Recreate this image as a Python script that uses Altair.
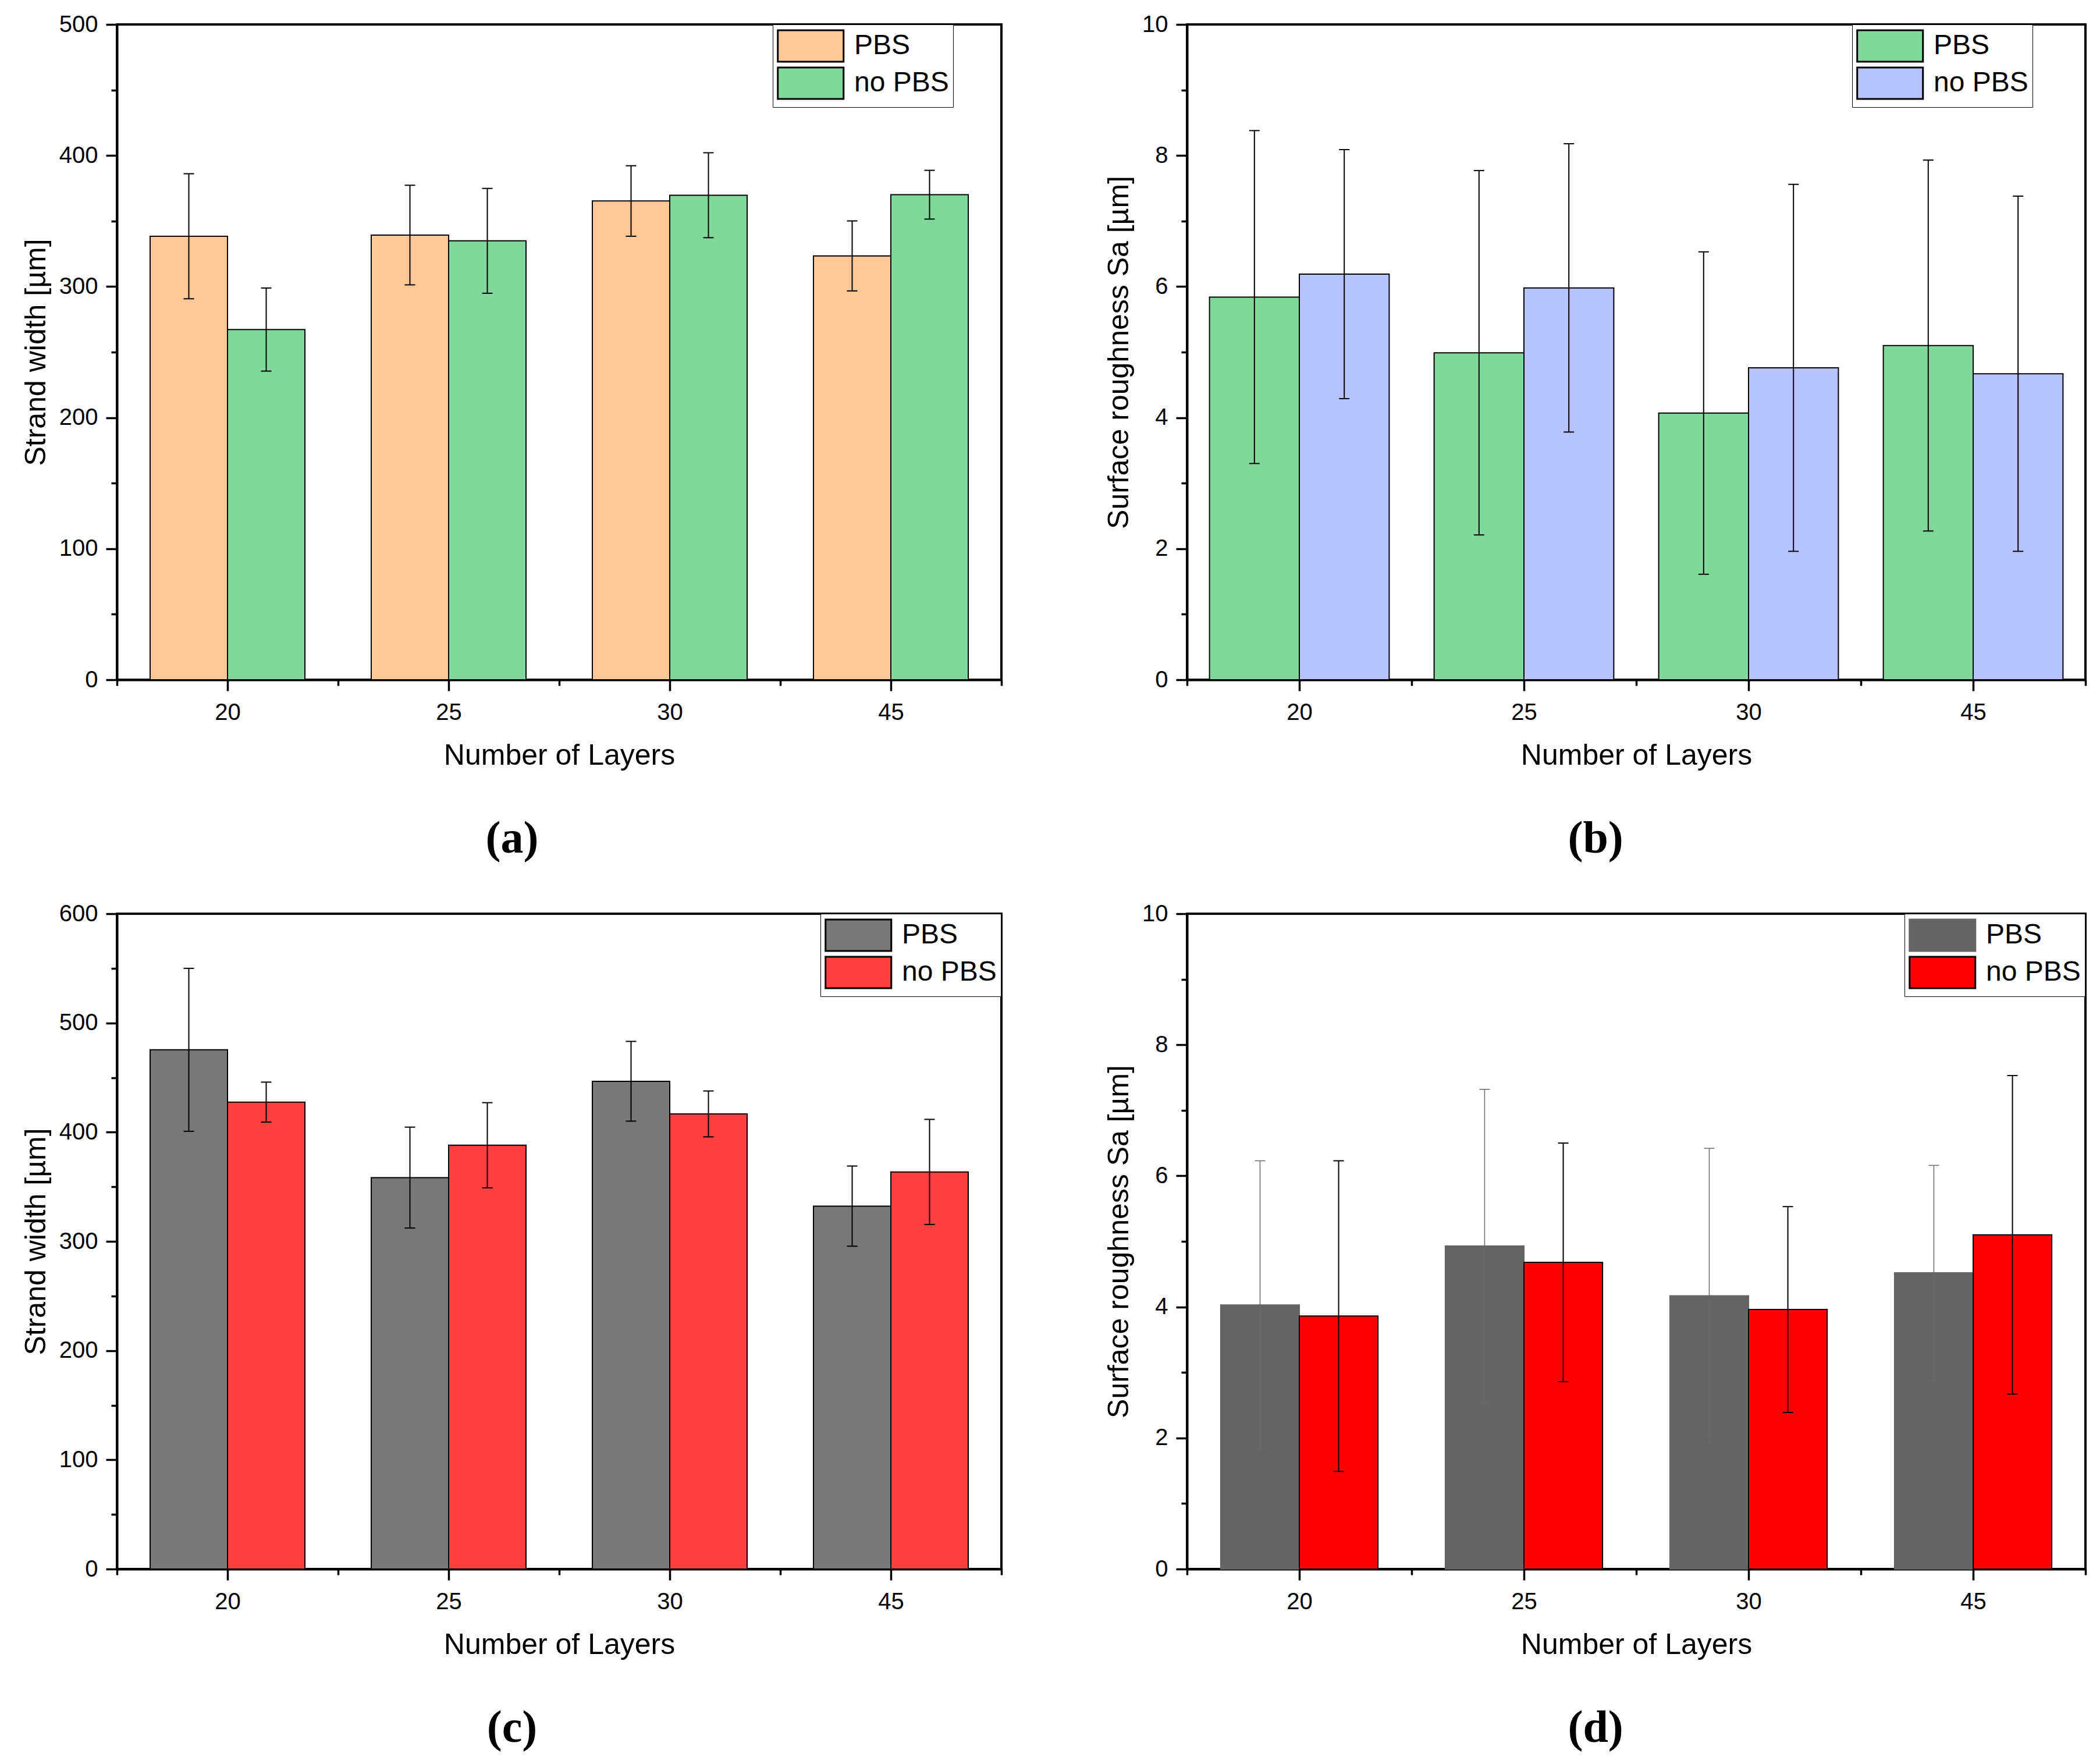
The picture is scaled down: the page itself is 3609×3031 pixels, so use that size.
import altair as alt
import pandas as pd

layers = ["20", "25", "30", "45"]
series = ["PBS", "no PBS"]

# (a) strand width, orange/green
a_pbs = [338.4, 339.3, 365.3, 323.4]
a_pbs_err = [47.7, 38.0, 26.9, 26.7]
a_nopbs = [267.2, 334.9, 369.7, 370.1]
a_nopbs_err = [31.7, 40.0, 32.4, 18.6]

# (b) surface roughness, green/blue
b_pbs = [5.84, 4.99, 4.07, 5.10]
b_pbs_err = [2.54, 2.78, 2.46, 2.83]
b_nopbs = [6.19, 5.98, 4.76, 4.67]
b_nopbs_err = [1.90, 2.20, 2.80, 2.71]

# (c) strand width, gray/red
c_pbs = [475.4, 358.4, 446.6, 332.3]
c_pbs_err = [74.6, 46.2, 36.5, 36.7]
c_nopbs = [427.5, 388.0, 416.7, 363.6]
c_nopbs_err = [18.3, 39.0, 21.0, 48.1]

# (d) surface roughness, gray/red
d_pbs = [4.03, 4.93, 4.17, 4.52]
d_pbs_err = [2.20, 2.39, 2.25, 1.64]
d_nopbs = [3.86, 4.68, 3.96, 5.10]
d_nopbs_err = [2.37, 1.82, 1.57, 2.43]

FONT = "Liberation Sans"


def make_df(pbs, pbs_err, nopbs, nopbs_err):
    rows = []
    for i, lay in enumerate(layers):
        rows.append({"idx": i, "layer": lay, "series": "PBS", "sidx": 0,
                     "mean": pbs[i], "err": pbs_err[i]})
        rows.append({"idx": i, "layer": lay, "series": "no PBS", "sidx": 1,
                     "mean": nopbs[i], "err": nopbs_err[i]})
    return pd.DataFrame(rows)


def panel(pbs, pbs_err, nopbs, nopbs_err, ymax, ystep, ytitle, colors,
          strokes, errcolors, errwidths, barw, legx, label, pw):
    df = make_df(pbs, pbs_err, nopbs, nopbs_err)
    base = alt.Chart(df).transform_calculate(
        xc=f"datum.idx + (datum.sidx - 0.5) * {barw}",
        x0=f"datum.idx + (datum.sidx - 1) * {barw}",
        x1=f"datum.idx + datum.sidx * {barw}",
        lo="datum.mean - datum.err",
        hi="datum.mean + datum.err",
    )
    xscale = alt.Scale(domain=[-0.5, 3.5], nice=False, zero=False)
    yscale = alt.Scale(domain=[0, ymax], nice=False, zero=True)

    common = dict(domainColor="black", tickColor="black", labelColor="black",
                  titleColor="black", grid=False, labelFont=FONT,
                  titleFont=FONT, titleFontWeight="normal", tickWidth=3.5,
                  domainWidth=4, labelFontSize=40, titleFontSize=50,
                  labelOverlap=False, labelFlush=False)
    major_x = alt.Axis(values=[0, 1, 2, 3],
                       labelExpr="['20','25','30','45'][datum.value]",
                       title="Number of Layers", orient="bottom", tickSize=19,
                       labelPadding=17, titlePadding=29, **common)
    major_y = alt.Axis(values=list(range(0, ymax + 1, ystep)), title=ytitle,
                       orient="left", tickSize=19, labelPadding=14,
                       titlePadding=14, **common)
    minor_x = alt.Axis(values=[-0.5, 0.5, 1.5, 2.5, 3.5], labels=False,
                       title=None, orient="bottom", tickSize=10, domain=False,
                       tickWidth=3.5, tickColor="black", grid=False)
    minor_vals = [ystep / 2 + k * ystep for k in range(int(ymax / ystep))]
    minor_y = alt.Axis(values=minor_vals, labels=False, title=None,
                       orient="left", tickSize=10, domain=False,
                       tickWidth=3.5, tickColor="black", grid=False)

    leg = alt.Legend(title=None, orient="none", legendX=legx, legendY=0,
                     symbolType="M-1,-0.956H3V0.956H-1Z",
                     symbolSize=56.5 ** 2, symbolStrokeWidth=3,
                     labelFont=FONT, labelFontSize=48, labelColor="black",
                     labelOffset=73, padding=7, rowPadding=-6,
                     strokeColor="black", fillColor="white",
                     labelLimit=0)

    bars = base.mark_bar(strokeWidth=2).encode(
        x=alt.X("x0:Q", scale=xscale, axis=major_x),
        x2="x1:Q",
        y=alt.Y("mean:Q", scale=yscale, axis=major_y),
        y2=alt.datum(0),
        color=alt.Color("series:N", scale=alt.Scale(domain=series, range=colors),
                        legend=leg),
        stroke=alt.Stroke("series:N",
                          scale=alt.Scale(domain=series, range=strokes),
                          legend=leg),
    )
    out = [bars]
    for k, s in enumerate(series):
        sub = base.transform_filter(alt.datum.series == s)
        rules = sub.mark_rule(color=errcolors[k], strokeWidth=errwidths[k]).encode(
            x=alt.X("xc:Q", scale=xscale,
                    axis=minor_x if k == 0 else None),
            y=alt.Y("lo:Q", scale=yscale,
                    axis=minor_y if k == 0 else None),
            y2="hi:Q",
        )
        caps = sub.transform_fold(["lo", "hi"], as_=["end", "val"]).mark_tick(
            orient="horizontal", size=18, thickness=errwidths[k],
            color=errcolors[k], opacity=1
        ).encode(
            x=alt.X("xc:Q", scale=xscale, axis=None),
            y=alt.Y("val:Q", scale=yscale, axis=None),
        )
        out += [rules, caps]
    return alt.layer(*out).resolve_axis(
        x="independent", y="independent"
    ).properties(
        width=pw, height=1126,
        title=alt.TitleParams(label, orient="bottom", anchor="middle",
                              frame="bounds", font="Liberation Serif",
                              fontSize=78, fontWeight="bold", color="black",
                              offset=80),
    )


pa = panel(a_pbs, a_pbs_err, a_nopbs, a_nopbs_err, 500, 100,
           "Strand width [µm]", ["#FFC896", "#80D99A"], ["black", "black"],
           ["black", "black"], [2, 2], 0.35, 1127, "(a)", 1520)
pb = panel(b_pbs, b_pbs_err, b_nopbs, b_nopbs_err, 10, 2,
           "Surface roughness Sa [µm]", ["#80D99A", "#B7C3FF"],
           ["black", "black"], ["black", "black"], [2, 2], 0.40, 1143,
           "(b)", 1544)
pc = panel(c_pbs, c_pbs_err, c_nopbs, c_nopbs_err, 600, 100,
           "Strand width [µm]", ["#787878", "#FF4040"], ["black", "black"],
           ["black", "black"], [2, 2], 0.35, 1209, "(c)", 1520)
pd_ = panel(d_pbs, d_pbs_err, d_nopbs, d_nopbs_err, 10, 2,
            "Surface roughness Sa [µm]", ["#646464", "#FF0000"],
            ["#646464", "black"], ["#6A6A6A", "black"], [1.5, 2], 0.35, 1233,
            "(d)", 1544)

chart = alt.vconcat(
    alt.hconcat(pa, pb, spacing=171).resolve_scale(color="independent",
                                                   stroke="independent"),
    alt.hconcat(pc, pd_, spacing=171).resolve_scale(color="independent",
                                                    stroke="independent"),
    spacing=65,
).resolve_scale(color="independent", stroke="independent").configure_view(
    stroke="black", strokeWidth=4
).properties(
    padding={"left": 27, "top": 12, "right": 5, "bottom": 5},
    background="white",
)

chart.save("out.html", embed_options={"renderer": "svg", "actions": False})
